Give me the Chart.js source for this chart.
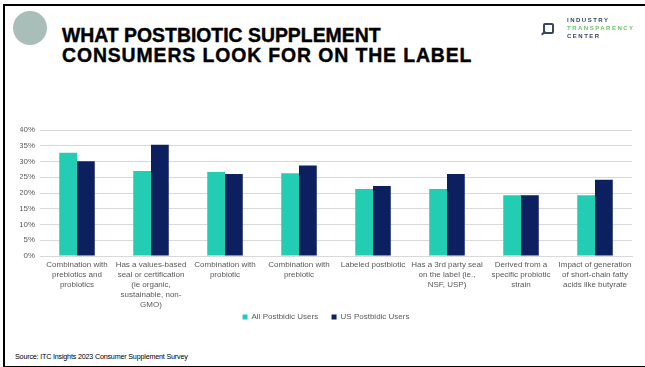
<!DOCTYPE html>
<html>
<head>
<meta charset="utf-8">
<script src="https://cdn.jsdelivr.net/npm/chart.js@4"></script>
<style>
  body { margin: 0; width: 645px; height: 367px; background: #fff; overflow: hidden; position: relative; font-family: "Liberation Sans", Arial, sans-serif; }
  #frame { position: absolute; left: 3px; top: 4px; width: 660px; height: 360px; border: 2px solid #000; border-right: none; }
  #dot { position: absolute; left: 13px; top: 11px; width: 34px; height: 34px; border-radius: 50%; background: #a9bdb9; }
  #title { position: absolute; left: 62px; top: 25px; font-size: 19.4px; line-height: 20px; font-weight: bold; color: #000; -webkit-text-stroke: 0.4px #000; white-space: nowrap; }
  #title .l2 { letter-spacing: 0.9px; }
  #logo { position: absolute; left: 541px; top: 15px; filter: blur(0.7px); }
  #logo .glass { position: absolute; left: 2px; top: 8px; width: 7px; height: 7px; border: 2px solid #3a4660; border-radius: 2px; }
  #logo .handle { position: absolute; left: 0px; top: 17px; width: 5px; height: 2px; background: #3a4660; transform: rotate(-45deg); }
  #logo .txt { position: absolute; left: 26px; top: 1px; font-size: 6px; line-height: 8px; font-weight: bold; white-space: nowrap; letter-spacing: 1.5px; }
  #source { position: absolute; left: 15px; top: 352px; font-family: "Liberation Sans Narrow", "Liberation Sans", sans-serif; font-size: 7.2px; color: #000; letter-spacing: -0.2px; }
  #wrap { position: absolute; left: 0; top: 120px; width: 645px; height: 211px; }
</style>
</head>
<body>
<div id="frame"></div>
<div id="dot"></div>
<div id="title"><span>WHAT POSTBIOTIC SUPPLEMENT</span><br><span class="l2">CONSUMERS LOOK FOR ON THE LABEL</span></div>
<div id="logo">
  <div class="glass"></div><div class="handle"></div>
  <div class="txt"><span style="color:#3a4660">INDUSTRY</span><br><span style="color:#6cc36c">TRANSPARENCY</span><br><span style="color:#3a4660">CENTER</span></div>
</div>
<div id="wrap"><canvas id="myChart" width="645" height="211"></canvas></div>
<div id="source">Source: ITC Insights 2023 Consumer Supplement Survey</div>
<script>
const categories = [
    ["Combination with", "prebiotics and", "probiotics"],
    ["Has a values-based", "seal or certification", "(ie organic,", "sustainable, non-", "GMO)"],
    ["Combination with", "probiotic"],
    ["Combination with", "prebiotic"],
    ["Labeled postbiotic"],
    ["Has a 3rd party seal", "on the label (ie.,", "NSF, USP)"],
    ["Derived from a", "specific probiotic", "strain"],
    ["Impact of generation", "of short-chain fatty", "acids like butyrate"]
];
const allUsers = [32.8, 27.0, 26.7, 26.3, 21.3, 21.3, 19.3, 19.3];
const usUsers = [30.1, 35.3, 26.0, 28.7, 22.2, 26.0, 19.3, 24.2];
const yTicks = [0, 5, 10, 15, 20, 25, 30, 35, 40];

const gray = '#595959';
const tickFont = { family: 'Liberation Sans', size: 8, lineHeight: 1.25 };

const ctx = document.getElementById("myChart").getContext("2d");

new Chart(ctx, {
    type: 'bar',
    data: {
        labels: categories,
        datasets: [{
            label: 'All Postbidic Users',
            data: allUsers,
            backgroundColor: '#22cdb3',
            categoryPercentage: 0.48,
            barPercentage: 1
        }, {
            label: 'US Postbidic Users',
            data: usUsers,
            backgroundColor: '#0c1f5e',
            categoryPercentage: 0.48,
            barPercentage: 1
        }]
    },
    options: {
        responsive: false,
        animation: false,
        layout: { padding: { top: 10, right: 13, left: 20, bottom: 0 } },
        plugins: {
            tooltip: { enabled: false },
            legend: {
                position: 'bottom',
                labels: {
                    color: gray,
                    font: { family: 'Liberation Sans', size: 8 },
                    boxWidth: 5,
                    boxHeight: 5,
                    padding: 0,
                    // no padding left for the long x labels, so space the items with text
                    generateLabels: chart => Chart.defaults.plugins.legend.labels.generateLabels(chart)
                        .map((item, i) => ({ ...item, text: i === 0 ? item.text + '      ' : item.text }))
                }
            }
        },
        scales: {
            x: {
                grid: { display: false, drawTicks: false, tickLength: 0 },
                border: { color: '#d9d9d9' },
                ticks: { color: gray, font: tickFont, maxRotation: 0, autoSkip: false, padding: 4 },
                afterFit: s => { s.height = 57; }
            },
            y: {
                min: 0,
                max: 40,
                afterBuildTicks: s => { s.ticks = yTicks.map(v => ({ value: v })); },
                grid: { color: '#d9d9d9', tickLength: 0 },
                border: { display: false },
                ticks: { color: gray, font: tickFont, padding: 5, callback: v => v + '%' },
                afterFit: s => { s.width = 20; }
            }
        }
    }
});
</script>
</body>
</html>
